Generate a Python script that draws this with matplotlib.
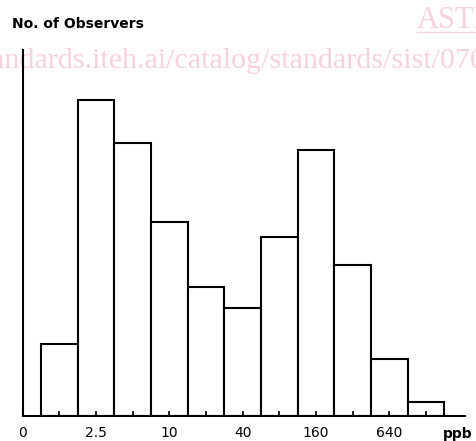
import matplotlib
matplotlib.use("Agg")
import matplotlib.pyplot as plt
from matplotlib.lines import Line2D
from matplotlib.ticker import FixedLocator

# Data: number of observers per concentration class (geometric, factor 2)
bin_positions = [1, 2, 3, 4, 5, 6, 7, 8, 9, 10, 11]
observers = [10, 44, 38, 27, 18, 15, 25, 37, 21, 8, 2]
label_positions = [0, 2, 4, 6, 8, 10]
tick_labels = ["0", "2.5", "10", "40", "160", "640"]
minor_positions = [1, 3, 5, 7, 9, 11]

W, H = 476, 441
fig = plt.figure(figsize=(W / 100, H / 100), dpi=100)
fig.patch.set_facecolor("white")

pink = "#f7d3de"
# watermark (behind everything)
fig.text(-28 / W, 1 - 68 / H, "standards.iteh.ai/catalog/standards/sist/07070",
         family="Liberation Serif", fontsize=21.6, color=pink, va="baseline",
         ha="left", zorder=-5)
fig.text(417 / W, 1 - 28.5 / H, "ASTM", family="Liberation Serif", fontsize=22,
         color=pink, va="baseline", ha="left", zorder=-5)
fig.add_artist(Line2D([417 / W, 1.0], [1 - 31.8 / H, 1 - 31.8 / H], color=pink,
                      lw=1.0, transform=fig.transFigure, zorder=-5))

ax = fig.add_axes([22.7 / W, (H - 416) / H, (465 - 22.7) / W, (416 - 50) / H])
ax.patch.set_visible(False)
ax.set_zorder(1)
ax.set_axisbelow(False)

ax.bar(bin_positions, observers, width=1.0, color="white", edgecolor="black",
       linewidth=1.5, zorder=2)

ax.set_xlim(0, 12.06)
ax.set_ylim(0, 51.0)

for s in ["top", "right"]:
    ax.spines[s].set_visible(False)
for s in ["left", "bottom"]:
    ax.spines[s].set_linewidth(1.5)
    ax.spines[s].set_zorder(3)

ax.set_yticks([])
ax.xaxis.set_major_locator(FixedLocator(label_positions))
ax.set_xticklabels(tick_labels)
ax.xaxis.set_minor_locator(FixedLocator(minor_positions))
ax.tick_params(axis="x", which="both", direction="in", length=3.5, width=1.2,
               pad=7.5, labelsize=10, colors="black")

fig.text(11.7 / W, 1 - 28.3 / H, "No. of Observers", fontsize=10,
         fontweight="bold", va="baseline", ha="left")
fig.text(458 / W, 1 - 434 / H, "ppb", fontsize=10, fontweight="bold",
         va="center", ha="center")

fig.savefig("out.png", dpi=100, facecolor="white")
